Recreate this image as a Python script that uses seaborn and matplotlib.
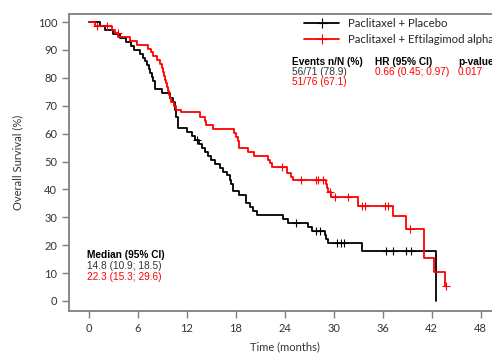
import numpy as np
import matplotlib
matplotlib.use('Agg')
import matplotlib.pyplot as plt
import seaborn as sns
from matplotlib.lines import Line2D
from matplotlib.legend_handler import HandlerLine2D

# Kaplan-Meier steps (months, % surviving)
placebo_t = [0, 1.4, 2.0, 2.9, 3.8, 4.5, 5.1, 5.5, 6.2, 6.6, 6.9, 7.1, 7.3, 7.5, 7.7, 7.8, 8.1,
             9.0, 9.9, 10.3, 10.5, 10.7, 10.9, 12.0, 12.6, 13.0, 13.5, 13.8, 14.2, 14.6, 15.0,
             15.5, 16.0, 16.4, 16.9, 17.3, 17.4, 17.6, 18.4, 19.3, 19.7, 20.1, 20.6, 23.8, 24.4,
             26.8, 27.3, 28.9, 29.1, 29.3, 33.5, 42.5]
placebo_s = [100, 98.6, 97.2, 95.8, 94.4, 93.0, 91.5, 90.1, 88.7, 87.3, 85.9, 84.5, 83.1, 81.7,
             80.3, 78.9, 76.1, 74.7, 72.8, 71.4, 68.6, 65.8, 62.0, 60.6, 59.2, 57.7, 56.3, 54.9,
             53.5, 52.0, 50.6, 49.2, 47.8, 46.4, 45.0, 43.5, 42.1, 39.3, 37.9, 35.1, 33.7, 32.3,
             30.8, 29.4, 28.0, 26.5, 25.1, 23.5, 22.2, 20.9, 17.9, 0]
placebo_cens = [13.2, 25.4, 27.8, 28.3, 30.4, 30.9, 31.2, 36.4, 37.3, 38.8, 39.5]

eft_t = [0, 0.7, 2.8, 3.2, 3.6, 5.0, 5.9, 7.2, 7.6, 7.8, 8.3, 8.7, 8.9, 9.1, 9.2, 9.3, 9.45,
         9.55, 9.7, 9.8, 9.95, 10.1, 10.4, 10.7, 11.3, 13.6, 14.2, 14.4, 15.2, 17.8, 18.0, 18.2,
         18.4, 19.5, 20.2, 21.9, 22.2, 22.4, 24.3, 24.8, 25.0, 29.0, 29.2, 29.35, 29.6, 33.0,
         37.2, 38.9, 41.1, 42.3, 43.6, 43.8]
eft_s = [100, 98.7, 97.3, 96.0, 94.6, 93.3, 91.9, 90.5, 89.1, 87.7, 86.4, 85.0, 83.6, 82.2,
         80.8, 79.4, 78.1, 76.7, 75.3, 73.9, 72.6, 71.2, 69.8, 68.4, 67.7, 66.0, 64.4, 63.0,
         61.6, 60.2, 58.9, 57.5, 54.8, 53.4, 52.0, 50.6, 49.3, 47.9, 46.0, 44.6, 43.3, 41.9,
         40.4, 38.9, 37.4, 34.2, 30.3, 25.9, 15.5, 10.3, 5.2, 5.2]
eft_cens = [1.0, 2.2, 3.5, 23.6, 26.0, 27.8, 28.1, 28.7, 29.5, 30.1, 31.8, 33.4, 33.8, 36.3,
            36.6, 39.3, 43.8]

x_ticks = [0, 6, 12, 18, 24, 30, 36, 42, 48]
y_ticks = [0, 10, 20, 30, 40, 50, 60, 70, 80, 90, 100]

RED = '#ff0000'
GRAY = '#7f7f7f'
TXT = '#333333'

sns.set_style('ticks')
plt.rcParams['font.family'] = ['Lato', 'DejaVu Sans']


def step_value(times, surv, when):
    idx = np.searchsorted(times, when, side='right') - 1
    return np.asarray(surv)[idx]


class MarkerAtEnd(HandlerLine2D):
    """legend handle: long line, censor mark at its right end"""
    def get_xdata(self, legend, xdescent, ydescent, width, height, fontsize):
        xdata, _ = super().get_xdata(legend, xdescent, ydescent, width, height, fontsize)
        return xdata, [xdata[-1] - 0.08 * width]


fig = plt.figure(figsize=(4.92, 3.54), dpi=100)
ax = fig.add_axes([69 / 492, 43 / 354, 428 / 492, 297 / 354])

sns.lineplot(x=placebo_t, y=placebo_s, ax=ax, color='black', lw=1.3,
             drawstyle='steps-post', sort=False, estimator=None)
sns.lineplot(x=eft_t, y=eft_s, ax=ax, color=RED, lw=1.3,
             drawstyle='steps-post', sort=False, estimator=None)
sns.scatterplot(x=placebo_cens, y=step_value(placebo_t, placebo_s, placebo_cens), ax=ax,
                marker='+', color='black', s=40, linewidth=0.8, zorder=3)
sns.scatterplot(x=eft_cens, y=step_value(eft_t, eft_s, eft_cens), ax=ax,
                marker='+', color=RED, s=40, linewidth=0.8, zorder=3)

ax.set_xlim(-2.45, 50)
ax.set_ylim(-3.6, 102.9)
ax.set_xticks(x_ticks)
ax.set_yticks(y_ticks)
ax.tick_params(colors=GRAY, labelcolor=TXT, labelsize=8, length=5, width=1)
for side in ['left', 'bottom', 'top', 'right']:
    ax.spines[side].set_color(GRAY)
    ax.spines[side].set_linewidth(1.3)
ax.set_xlabel('Time (months)', fontsize=8, color=TXT)
ax.set_ylabel('Overall Survival (%)', fontsize=8, color=TXT)
ax.xaxis.set_label_coords((285 - 69) / 428, -30 / 297)
ax.yaxis.set_label_coords(-(69 - 23) / 428, 0.5)

handles = [Line2D([], [], color='black', lw=1.3, marker='+', ms=7, mew=0.8),
           Line2D([], [], color=RED, lw=1.3, marker='+', ms=7, mew=0.8)]
ax.legend(handles, ['Paclitaxel + Placebo', 'Paclitaxel + Eftilagimod alpha'],
          loc='upper left', bbox_to_anchor=(304 / 492, 1 - 18 / 354),
          bbox_transform=fig.transFigure, frameon=False, fontsize=8.2,
          handlelength=3.1, handletextpad=0.75, labelspacing=0.4,
          borderpad=0, borderaxespad=0, handler_map={Line2D: MarkerAtEnd(numpoints=1)})

stat = dict(fontsize=7.3, family=['Liberation Sans', 'DejaVu Sans'], va='center')
ax.text(24.9, 85.7, 'Events n/N (%)', fontweight='bold', color='black', **stat)
ax.text(24.9, 82.1, '56/71 (78.9)', color=TXT, **stat)
ax.text(24.9, 78.5, '51/76 (67.1)', color=RED, **stat)
ax.text(35.0, 85.7, 'HR (95% CI)', fontweight='bold', color='black', **stat)
ax.text(35.0, 82.1, '0.66 (0.45; 0.97)', color=RED, **stat)
ax.text(45.2, 85.7, 'p-value', fontweight='bold', color='black', **stat)
ax.text(45.2, 82.1, '0.017', color=RED, **stat)

ax.text(-0.25, 16.5, 'Median (95% CI)', fontweight='bold', color='black', **stat)
ax.text(-0.25, 12.5, '14.8 (10.9; 18.5)', color=TXT, **stat)
ax.text(-0.25, 8.6, '22.3 (15.3; 29.6)', color=RED, **stat)

fig.savefig('out.png', dpi=100)
plt.close(fig)
